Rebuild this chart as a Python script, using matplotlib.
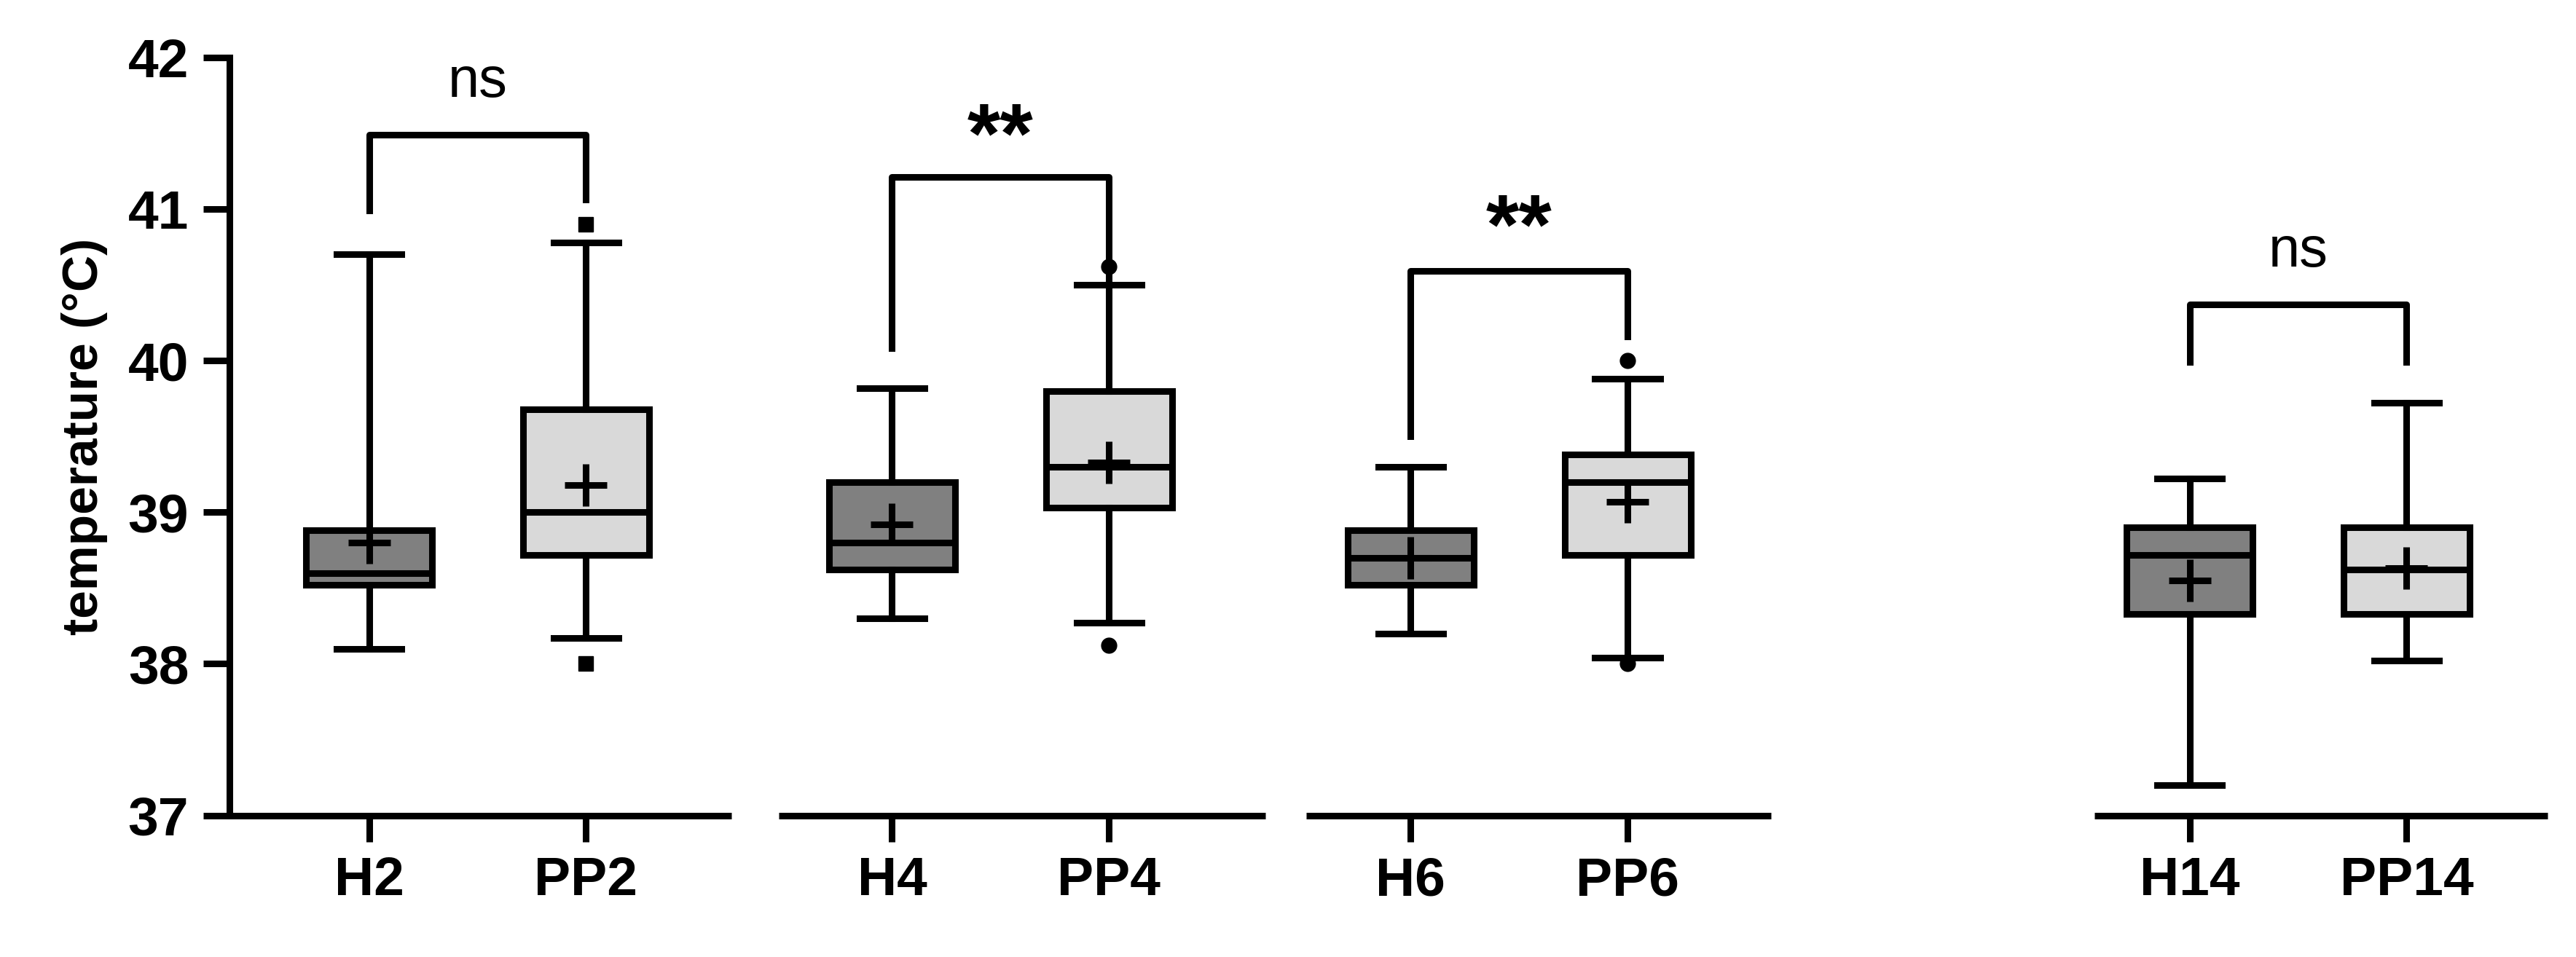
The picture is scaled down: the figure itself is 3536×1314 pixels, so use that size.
import matplotlib
matplotlib.use("Agg")
import matplotlib.pyplot as plt

plt.rcParams['font.family'] = ['Liberation Sans', 'DejaVu Sans']

labels = ["H2", "PP2", "H4", "PP4", "H6", "PP6", "H14", "PP14"]
positions = [1.0, 2.0, 3.41, 4.41, 5.80, 6.80, 9.39, 10.39]
whislo = [38.1, 38.17, 38.3, 38.27, 38.2, 38.04, 37.2, 38.02]
q1 = [38.52, 38.72, 38.62, 39.03, 38.52, 38.72, 38.33, 38.33]
med = [38.6, 39.0, 38.8, 39.3, 38.7, 39.2, 38.72, 38.62]
q3 = [38.88, 39.68, 39.2, 39.8, 38.88, 39.38, 38.9, 38.9]
whishi = [40.7, 40.78, 39.82, 40.5, 39.3, 39.88, 39.22, 39.72]
means = [38.8, 39.18, 38.92, 39.33, 38.7, 39.07, 38.55, 38.63]
outliers = [[], [40.9, 38.0], [], [40.62, 38.12], [], [40.0, 38.0], [], []]
out_markers = ['s', 's', 'o', 'o', 'o', 'o', 'o', 'o']
colors = ['#808080', '#d9d9d9'] * 4

# brackets: (x1, x2, top, left leg bottom, right leg bottom, text, text y)
brackets = [
    (1.0, 2.0, 41.49, 40.99, 41.06, "ns", 41.84),
    (3.41, 4.41, 41.21, 40.08, 40.43, "**", 41.45),
    (5.80, 6.80, 40.59, 39.50, 40.16, "**", 40.85),
    (9.39, 10.39, 40.37, 39.99, 39.99, "ns", 40.72),
]
segments = [(0.356, 2.67), (2.89, 5.13), (5.32, 7.46), (8.95, 11.04)]

fig = plt.figure(figsize=(35.36, 13.14), dpi=100)
ax = fig.add_axes([0.089, 0.148, 0.9, 0.792])
lw = 6.5
stats = []
for i in range(len(labels)):
    stats.append(dict(whislo=whislo[i], q1=q1[i], med=med[i], q3=q3[i],
                      whishi=whishi[i], fliers=[], label=labels[i]))
bp = ax.bxp(stats, positions=positions, widths=0.58, patch_artist=True,
            showfliers=False,
            boxprops=dict(linewidth=lw, edgecolor='black'),
            medianprops=dict(linewidth=lw, color='black'),
            whiskerprops=dict(linewidth=lw, color='black'),
            capprops=dict(linewidth=lw, color='black'), capwidths=0.3)
for patch, c in zip(bp['boxes'], colors):
    patch.set_facecolor(c)
for i, p in enumerate(positions):
    ax.plot([p], [means[i]], marker='+', color='black', markersize=42, mew=lw)
    if outliers[i]:
        ax.plot([p] * len(outliers[i]), outliers[i], linestyle='none',
                marker=out_markers[i], color='black', markersize=15)
for x1, x2, top, l, r, t, ty in brackets:
    ax.plot([x1, x1, x2, x2], [l, top, top, r], color='black', lw=lw)
    ax.text((x1 + x2) / 2, ty, t, ha='center', va='center',
            fontsize=56 if t == 'ns' else 84,
            fontweight='normal' if t == 'ns' else 'bold')
for a, b in segments:
    ax.plot([a, b], [37, 37], color='black', lw=lw, clip_on=False,
            solid_capstyle='butt')

ax.set_xlim(0.356, 11.04)
ax.set_ylim(37, 42)
ax.set_yticks([37, 38, 39, 40, 41, 42])
ax.set_xticks(positions)
ax.set_xticklabels(labels, fontsize=54, fontweight='bold')
for lab in ax.get_yticklabels():
    lab.set_fontsize(54)
    lab.set_fontweight('bold')
ax.set_ylabel("temperature (°C)", fontsize=50, fontweight='bold', labelpad=20)
for s in ['top', 'right', 'bottom']:
    ax.spines[s].set_visible(False)
ax.spines['left'].set_linewidth(lw)
ax.tick_params(axis='both', width=lw, length=26, pad=14)
fig.savefig("out.png", dpi=100)
